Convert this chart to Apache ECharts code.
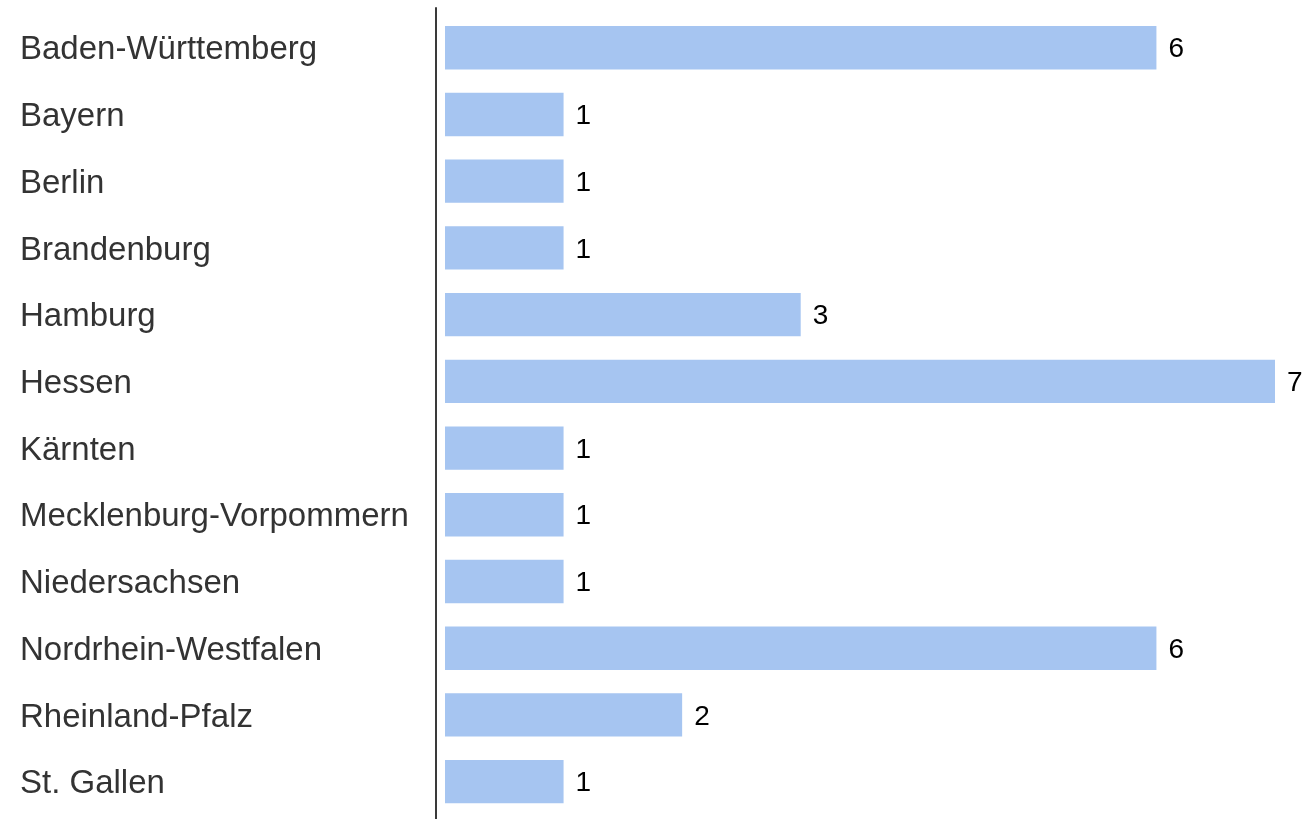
<!DOCTYPE html>
<html>
<head>
<meta charset="utf-8">
<script src="https://cdn.jsdelivr.net/npm/echarts@6/dist/echarts.min.js"></script>
<style>
  html, body { margin: 0; padding: 0; background: #fff; }
  #chart { width: 1307px; height: 819px; }
</style>
</head>
<body>
<div id="chart"></div>
<script>
// Number of entries per federal state / canton
const regions = [
  'Baden-Württemberg', 'Bayern', 'Berlin', 'Brandenburg', 'Hamburg', 'Hessen',
  'Kärnten', 'Mecklenburg-Vorpommern', 'Niedersachsen', 'Nordrhein-Westfalen',
  'Rheinland-Pfalz', 'St. Gallen'
];
const counts = [6, 1, 1, 1, 3, 7, 1, 1, 1, 6, 2, 1];

const chart = echarts.init(document.getElementById('chart'), null, { renderer: 'canvas' });

chart.setOption({
  animation: false,
  backgroundColor: '#ffffff',
  grid: [
    { left: 445, right: 32, top: 14.4, bottom: 4, containLabel: false },
    // thin grid that only carries the vertical rule next to the labels
    { left: 436, width: 1, top: 8, bottom: 0 }
  ],
  xAxis: [
    { gridIndex: 0, type: 'value', min: 0, max: 7, show: false },
    { gridIndex: 1, type: 'value', min: 0, max: 1, show: false }
  ],
  yAxis: [
    {
      gridIndex: 0,
      type: 'category',
      data: regions,
      inverse: true,
      axisLine: { show: false },
      axisTick: { show: false },
      splitLine: { show: false },
      axisLabel: {
        align: 'left',
        margin: 425,
        formatter: '{n|{value}}',
        rich: {
          n: {
            color: '#333333',
            fontFamily: 'Liberation Sans, Arial, sans-serif',
            fontSize: 33,
            padding: [5, 0, 0, 0]
          }
        }
      }
    },
    {
      gridIndex: 1,
      type: 'value',
      min: 0, max: 1,
      axisLine: { show: true, lineStyle: { color: '#3a3a3a', width: 2 } },
      axisTick: { show: false },
      axisLabel: { show: false },
      splitLine: { show: false }
    }
  ],
  series: [
    {
      type: 'bar',
      xAxisIndex: 0,
      yAxisIndex: 0,
      data: counts,
      barWidth: '65%',
      itemStyle: { color: '#a6c5f1' },
      label: {
        show: true,
        position: 'right',
        distance: 12,
        offset: [0, 2],
        color: '#000000',
        fontFamily: 'Liberation Sans, Arial, sans-serif',
        fontSize: 28
      }
    }
  ]
});
</script>
</body>
</html>
